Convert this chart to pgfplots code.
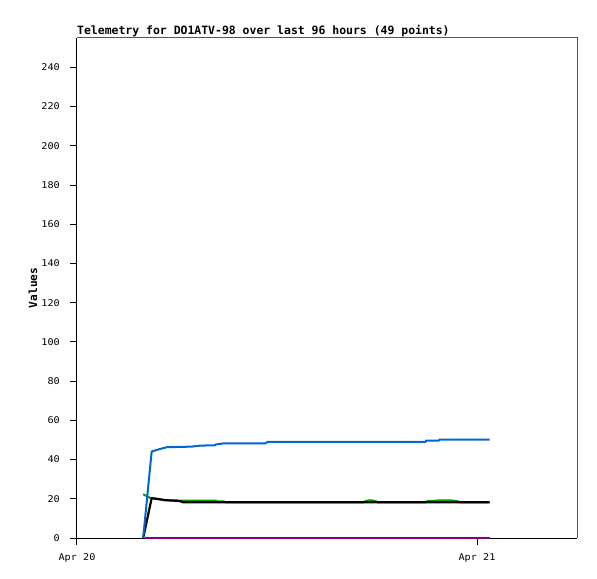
\documentclass[border=0pt]{standalone}
\usepackage{fontspec}
\setmainfont{DejaVu Sans Mono}
\newfontfamily\titlefont{DejaVu Sans Mono Bold}
\newfontfamily\tickfont[FakeStretch=1.1]{DejaVu Sans Mono}
\usepackage{pgfplots}
\pgfplotsset{compat=1.18}
\definecolor{tblue}{HTML}{0066CC}
\definecolor{tgreen}{HTML}{00A000}
\definecolor{tpurple}{HTML}{800080}
\definecolor{tframe}{HTML}{555555}
\begin{document}
\begin{tikzpicture}
\useasboundingbox (-77bp,-41bp) rectangle (520bp,538bp);
\begin{axis}[
  scale only axis, width=500bp, height=500bp,
  at={(0,0)}, anchor=south west,
  xmin=0, xmax=30, ymin=0, ymax=255,
  axis x line*=bottom, axis y line*=left,
  axis line style={black, line width=1bp, -},
  xtick={0,24}, xticklabels={Apr 20,Apr 21},
  ytick={0,20,...,240},
  tick align=outside, major tick length=7bp,
  tick style={black, line width=1bp},
  ticklabel style={font=\tickfont\fontsize{9.3}{11}\selectfont, inner sep=0pt},
  yticklabel shift=10bp,
  xticklabel shift=8bp,
  /pgf/number format/assume math mode=true,
  ylabel={Values},
  ylabel style={font=\titlefont\fontsize{11.2}{13}\selectfont, at={(axis description cs:-0.088,0.5)}, anchor=center},
  title={Telemetry for DO1ATV-98 over last 96 hours (49 points)},
  every axis title/.style={font=\titlefont\fontsize{11.5}{13}\selectfont, at={(axis description cs:0,1.007)}, anchor=base west, inner sep=0pt},
  clip=false,
]
\draw[tframe, line width=1bp] (rel axis cs:0,1) -- (rel axis cs:1,1) -- (rel axis cs:1,0);
\addplot[tgreen, line width=2bp] coordinates {
 (3.97,22.3) (4.18,21.4) (4.42,20.3) (4.87,19.8) (5.28,19.3) (6.13,19.1)
 (8.33,19.1) (8.40,18.7) (8.81,18.7) (8.90,18.2) (17.20,18.2) (17.27,18.7)
 (17.50,19.2) (17.69,19.2) (17.97,18.7) (18.05,18.2) (20.90,18.2) (20.97,18.7)
 (21.76,19.2) (22.46,19.2) (22.86,18.7) (22.95,18.2) (24.76,18.2)
};
\addplot[black, line width=2.2bp] coordinates {
 (3.97,0) (4.48,20.3) (4.87,19.9) (5.28,19.3) (6.13,18.9) (6.37,18.2) (24.76,18.2)
};
\addplot[tblue, line width=2bp] coordinates {
 (3.97,0) (4.48,44.1) (4.98,45.4) (5.16,45.8) (5.40,46.3) (6.88,46.6) (7.37,47.1)
 (8.27,47.3) (8.33,47.7) (8.75,48.2) (11.27,48.2) (11.45,49.0) (20.90,49.0)
 (20.97,49.7) (21.70,49.7) (21.76,50.2) (24.76,50.2)
};
\addplot[tpurple, line width=2bp] coordinates {
 (4.08,0) (24.76,0)
};
\end{axis}
\end{tikzpicture}
\end{document}
